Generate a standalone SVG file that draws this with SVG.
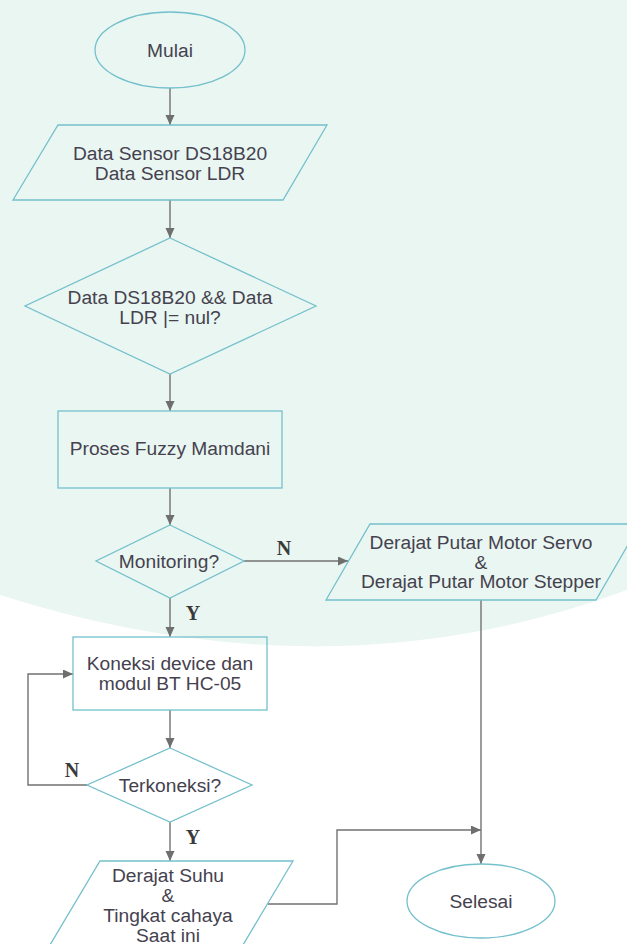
<svg xmlns="http://www.w3.org/2000/svg" width="627" height="944" viewBox="0 0 627 944">
<defs>
<marker id="arr" markerUnits="userSpaceOnUse" markerWidth="11" markerHeight="10" refX="10" refY="4.5" orient="auto">
<path d="M0,0 L10,4.5 L0,9 z" fill="#6f6f6f"/>
</marker>
<style>
.shape{fill:none;stroke:#74c0cc;stroke-width:1.3}
.conn{fill:none;stroke:#727272;stroke-width:1.4}
.t{font-family:"Liberation Sans",Arial,sans-serif;font-size:19.2px;fill:#45424f;text-anchor:middle}
.lbl{font-family:"Liberation Serif","Times New Roman",serif;font-size:20px;font-weight:bold;fill:#3a3a3a;text-anchor:middle}
</style>
</defs>
<rect x="0" y="0" width="627" height="944" fill="#ffffff"/>
<path d="M0,0 H627 V590 Q330,700 0,595 Z" fill="#eaf6f1"/>

<g id="connectors">
<path class="conn" d="M170,88 L170,125" marker-end="url(#arr)"/>
<path class="conn" d="M170,200 L170,238" marker-end="url(#arr)"/>
<path class="conn" d="M170,374 L170,411" marker-end="url(#arr)"/>
<path class="conn" d="M170,488 L170,525" marker-end="url(#arr)"/>
<path class="conn" d="M244,561 L348,561" marker-end="url(#arr)"/>
<path class="conn" d="M170,598 L170,637" marker-end="url(#arr)"/>
<path class="conn" d="M170,710 L170,748" marker-end="url(#arr)"/>
<path class="conn" d="M87,785 L28,785 L28,674 L73,674" marker-end="url(#arr)"/>
<path class="conn" d="M170,822 L170,861" marker-end="url(#arr)"/>
<path class="conn" d="M268,904 L337,904 L337,830 L481,830" marker-end="url(#arr)"/>
<path class="conn" d="M481,600 L481,864" marker-end="url(#arr)"/>
<text class="lbl" x="284" y="555">N</text>
<text class="lbl" x="193" y="620">Y</text>
<text class="lbl" x="72" y="777">N</text>
<text class="lbl" x="193" y="844">Y</text>
</g>

<g id="mulai">
<ellipse class="shape" cx="170" cy="50" rx="75" ry="38"/>
<text class="t" x="170" y="56.5">Mulai</text>
</g>

<g id="data-sensor">
<polygon class="shape" points="58,125 327,125 283,200 13,200"/>
<text class="t" x="170" y="160">Data Sensor DS18B20</text>
<text class="t" x="170" y="180">Data Sensor LDR</text>
</g>

<g id="cek-data">
<polygon class="shape" points="170,238 316,306 170,374 25,306"/>
<text class="t" x="170" y="303.5">Data DS18B20 &amp;&amp; Data</text>
<text class="t" x="170" y="323.5">LDR |= nul?</text>
</g>

<g id="fuzzy">
<rect class="shape" x="58" y="411" width="224" height="77"/>
<text class="t" x="170" y="454.5">Proses Fuzzy Mamdani</text>
</g>

<g id="monitoring">
<polygon class="shape" points="170,525 244,561 170,598 96,561"/>
<text class="t" x="169" y="567.5">Monitoring?</text>
</g>

<g id="motor">
<polygon class="shape" points="370,524 640,524 596,600 326,600"/>
<text class="t" x="481" y="548.5">Derajat Putar Motor Servo</text>
<text class="t" x="481" y="568.5">&amp;</text>
<text class="t" x="481" y="588">Derajat Putar Motor Stepper</text>
</g>

<g id="koneksi">
<rect class="shape" x="73" y="637" width="194" height="73"/>
<text class="t" x="170" y="669.5">Koneksi device dan</text>
<text class="t" x="170" y="689.5">modul BT HC-05</text>
</g>

<g id="terkoneksi">
<polygon class="shape" points="170,748 252,785 170,822 87,785"/>
<text class="t" x="170" y="791.5">Terkoneksi?</text>
</g>

<g id="suhu-cahaya">
<polygon class="shape" points="100,861 293,861 237,955 44,955"/>
<text class="t" x="168" y="881.5">Derajat Suhu</text>
<text class="t" x="168" y="901.5">&amp;</text>
<text class="t" x="168" y="921.5">Tingkat cahaya</text>
<text class="t" x="168" y="941.5">Saat ini</text>
</g>

<g id="selesai">
<ellipse class="shape" cx="481" cy="901" rx="74" ry="37"/>
<text class="t" x="481" y="907.5">Selesai</text>
</g>
</svg>
